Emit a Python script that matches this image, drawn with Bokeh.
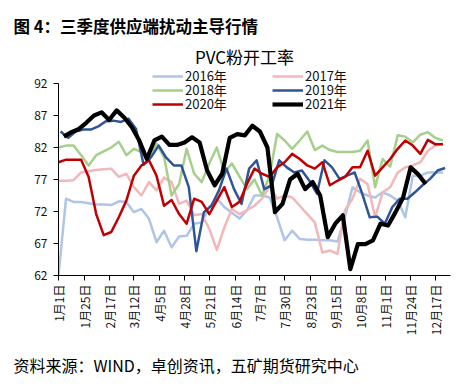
import math
from datetime import date
from bokeh.plotting import figure
from bokeh.models import FixedTicker, Legend, LegendItem, Range1d, Title, Label
from bokeh.embed import file_html
from bokeh.resources import INLINE

# ---------------- data ----------------
title_text = "图 4：三季度供应端扰动主导行情"
chart_title = "PVC粉开工率"
source_text = "资料来源：WIND，卓创资讯，五矿期货研究中心"

tick_labels = ["1月1日", "1月25日", "2月17日", "3月12日", "4月5日", "4月28日",
               "5月21日", "6月14日", "7月7日", "7月30日", "8月23日", "9月15日",
               "10月8日", "11月1日", "11月24日", "12月17日"]
y_ticks = [62, 67, 72, 77, 82, 87, 92]

years = ["2016年", "2017年", "2018年", "2019年", "2020年", "2021年"]
# first weekly reading of each year, as month/day
first_dates = [(1, 1), (1, 1), (1, 1), (1, 3), (1, 1), (1, 6)]

s2016 = [62.0, 74.0, 73.5, 73.5, 73.3, 73.1, 73.1, 73.0, 73.6, 73.5,
         71.9, 72.4, 70.9, 67.2, 69.0, 66.4, 68.1, 68.2, 70.1, 70.3,
         72.7, 74.0, 72.7, 71.8, 70.9, 72.2, 74.5, 74.5, 74.2, 71.1,
         67.5, 69.0, 67.7, 67.6, 67.6, 67.5, 67.5, 67.3, 71.1, 75.8,
         75.0, 74.5, 74.2, 75.0, 74.5, 73.7, 71.1, 77.6, 77.6, 78.1,
         78.1, 78.1]
s2017 = [76.8, 76.8, 76.9, 78.1, 78.3, 78.5, 78.6, 78.7, 77.4, 77.9,
         75.8, 74.5, 76.6, 75.3, 77.3, 76.6, 73.2, 73.7, 71.4, 71.6,
         69.3, 66.0, 69.5, 72.4, 71.6, 72.2, 72.9, 74.0, 76.0, 74.0,
         74.5, 74.2, 72.9, 71.6, 70.3, 65.6, 65.9, 65.4, 72.2, 74.0,
         77.1, 76.3, 71.1, 75.0, 75.8, 78.1, 78.9, 79.2, 79.7, 81.5,
         82.3, 82.6]
s2018 = [82.0, 82.3, 82.3, 80.8, 79.2, 80.8, 81.4, 82.0, 82.9, 80.8,
         81.8, 81.3, 80.0, 82.6, 80.5, 74.5, 76.3, 81.8, 77.9, 76.6,
         79.5, 82.0, 78.1, 79.5, 77.5, 75.5, 77.0, 74.5, 77.6, 84.1,
         83.1, 81.8, 83.1, 84.5, 81.6, 82.3, 81.6, 81.3, 81.3, 81.3,
         81.5, 83.1, 75.8, 80.2, 79.0, 83.9, 83.7, 82.8, 84.0, 84.4,
         83.5, 83.1]
s2019 = [84.5, 83.5, 84.5, 84.8, 84.8, 85.3, 86.1, 86.2, 86.0, 86.5,
         84.9, 79.3, 80.5, 82.3, 80.4, 79.2, 79.2, 75.8, 65.8, 71.9,
         72.9, 75.3, 78.7, 75.5, 73.2, 78.7, 80.0, 75.5, 76.1, 80.0,
         78.9, 78.1, 78.4, 76.8, 74.8, 80.0, 78.9, 77.1, 77.6, 78.1,
         74.8, 71.1, 71.2, 70.1, 72.7, 74.0, 74.0, 75.0, 76.1, 77.1,
         78.4, 78.8]
s2020 = [79.7, 80.1, 80.1, 80.1, 77.4, 71.6, 68.3, 68.8, 71.1, 73.7,
         77.6, 79.2, 80.0, 77.6, 72.9, 73.8, 71.6, 70.1, 74.0, 73.5,
         71.6, 73.7, 75.8, 72.7, 73.5, 76.3, 78.7, 77.9, 77.4, 78.9,
         79.7, 81.0, 80.2, 79.2, 78.7, 79.7, 76.1, 76.8, 77.4, 78.9,
         78.9, 81.5, 77.6, 78.9, 80.2, 81.8, 83.1, 82.3, 81.0, 83.2,
         82.5, 82.5]
s2021 = [83.7, 84.4, 84.9, 85.9, 87.0, 87.5, 86.3, 87.8, 86.7, 85.2,
         83.1, 80.2, 83.1, 83.7, 82.4, 82.4, 82.8, 83.6, 82.8, 78.4,
         76.1, 77.9, 83.5, 84.1, 83.9, 85.4, 84.5, 82.0, 71.9, 73.2,
         77.0, 77.9, 75.5, 76.6, 74.5, 68.0, 70.1, 71.4, 63.0, 66.9,
         66.9, 67.5, 70.1, 69.8, 71.9, 74.2, 78.9, 77.8, 76.3]

series = [s2016, s2017, s2018, s2019, s2020, s2021]
colors = ["#AEC5E8", "#F2B7B9", "#A6CF8B", "#2F5597", "#C00000", "#000000"]
widths = [2.5, 2.5, 2.5, 2.5, 2.5, 4.2]

# ---------------- helpers ----------------
def day_of_year(m, d):
    return (date(2021, m, d) - date(2021, 1, 1)).days

def parse_label(s):
    m, rest = s.split("月")
    return day_of_year(int(m), int(rest.rstrip("日")))

tick_days = [parse_label(s) for s in tick_labels]

CJK = "Noto Sans CJK SC"

p = figure(width=458, height=388, output_backend="svg", toolbar_location=None,
           x_range=Range1d(0, 364), y_range=Range1d(62, 97.94),
           min_border_left=58, min_border_right=8, min_border_top=45,
           min_border_bottom=113)
p.background_fill_color = "white"
p.border_fill_color = "white"
p.outline_line_color = None
p.xgrid.visible = False
p.ygrid.visible = False

renderers = []
for vals, (m, d), col, w in zip(series, first_dates, colors, widths):
    start = day_of_year(m, d)
    xs = [start + 7 * i for i in range(len(vals))]
    r = p.line(xs, vals, line_color=col, line_width=w, line_join="round")
    renderers.append(r)

# axes
p.xaxis.ticker = FixedTicker(ticks=tick_days)
p.xaxis.major_label_overrides = {d: s for d, s in zip(tick_days, tick_labels)}
p.xaxis.major_label_orientation = math.pi / 2
p.xaxis.bounds = (0, 364)
p.yaxis.ticker = FixedTicker(ticks=y_ticks)
p.yaxis.bounds = (62, 92)
for ax in (p.xaxis[0], p.yaxis[0]):
    ax.minor_tick_line_color = None
    ax.major_tick_in = 0
    ax.major_tick_out = 5
    ax.axis_line_color = "black"
    ax.major_tick_line_color = "black"
    ax.major_label_text_font_size = "12px"
    ax.major_label_text_color = "#111111"
    ax.major_label_text_font = CJK
p.yaxis[0].major_label_standoff = 6
p.xaxis[0].major_label_standoff = 4

def make_legend(i, loc):
    lg = Legend(items=[LegendItem(label=years[i], renderers=[renderers[i]])],
                location=loc, orientation="vertical")
    lg.border_line_color = None
    lg.background_fill_alpha = 0
    lg.padding = 0
    lg.margin = 0
    lg.spacing = 0
    lg.glyph_width = 31
    lg.glyph_height = 14
    lg.label_height = 14
    lg.label_standoff = 2
    lg.label_text_font_size = "13px"
    lg.label_text_font = CJK
    lg.label_text_color = "#111111"
    return lg

# legend grid: 2 columns x 3 rows; anchor = bottom-left, frame pixels
legend_cols = [94, 214]
legend_rows = [189.75, 175.75, 161.75]
for i in range(len(years)):
    p.add_layout(make_legend(i, (legend_cols[i % 2], legend_rows[i // 2])))

# chart title inside the (extended) frame
p.add_layout(Label(x=186, y=219.5, x_units="screen", y_units="screen", text=chart_title,
                   text_font=CJK, text_font_size="17px", text_baseline="middle",
                   text_align="center", text_color="black"))

# page title
p.title.text = title_text
p.title.align = "left"
p.title.offset = -45
p.title.standoff = 16
p.title.text_font = CJK
p.title.text_font_size = "16.5px"
p.title.text_font_style = "bold"
p.title.text_color = "black"

p.add_layout(Title(text=source_text, align="left", offset=-45, standoff=24,
                   text_font=CJK, text_font_size="16px", text_font_style="normal",
                   text_color="black"), "below")

open("out.html", "w").write(file_html(p, INLINE))
